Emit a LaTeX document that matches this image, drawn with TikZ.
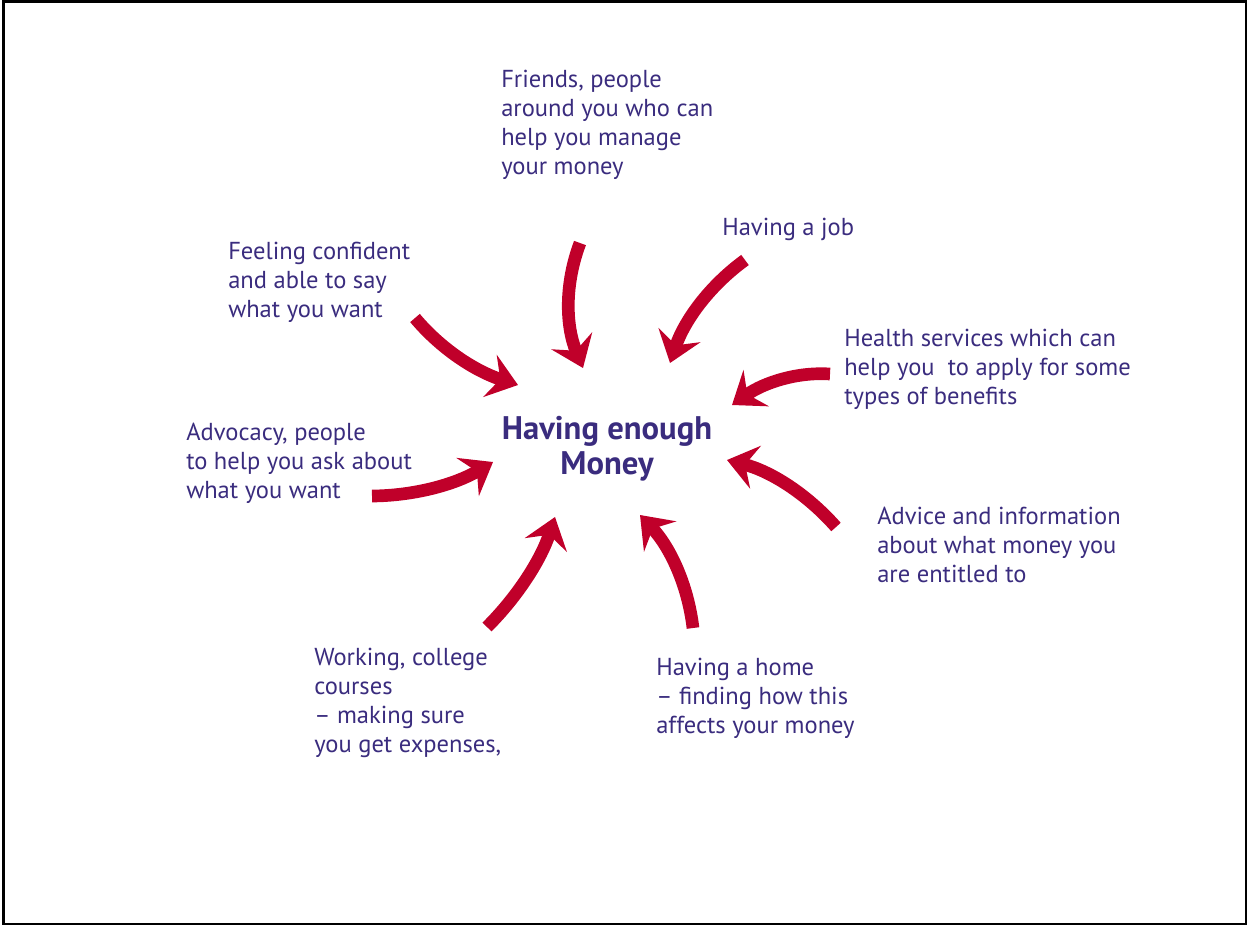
\documentclass[tikz,border=0pt]{standalone}
\usepackage{fontspec}
\setmainfont{PT Sans}
\usetikzlibrary{arrows.meta,calc}
\definecolor{txtpurple}{HTML}{3A2C7E}
\definecolor{arrred}{HTML}{C0002A}
\tikzset{
  lbl/.style={anchor=base west, inner sep=0pt, align=left, text=txtpurple,
    font=\fontsize{18.4pt}{21.75pt}\selectfont},
  bigarrow/.style={draw=arrred, line width=9.5pt,
    -{Stealth[length=22pt, width=33pt, inset=8pt]}},
}
\begin{document}
\begin{tikzpicture}[x=0.75pt, y=-0.75pt]
\useasboundingbox (0,0) rectangle (1248,926);
\draw[line width=1.6pt] (3.5,1.5) rectangle (1246,924);

% base anchor of a multi-line node = baseline of its last line
\node[anchor=base, inner sep=0pt, align=center, text=txtpurple,
  font=\fontsize{24.5pt}{26.25pt}\selectfont\bfseries] (center) at (607,474)
  {Having enough\\Money};

\node[lbl] (friends) at (501,174) {Friends, people\\around you who can\\help you manage\\your money};
\node[lbl] (feeling) at (228,317) {Feeling confident\\and able to say\\what you want};
\node[lbl] (job) at (722,235) {Having a job};
\node[lbl] (health) at (844,404) {Health services which can\\help you\ \ to apply for some\\types of benefits};
\node[lbl] (advocacy) at (186,498) {Advocacy, people\\to help you ask about\\what you want};
\node[lbl] (advice) at (877,582) {Advice and information\\about what money you\\are entitled to};
\node[lbl] (working) at (314,752) {Working, college\\courses\\– making sure\\you get expenses,};
\node[lbl] (home) at (656,733) {Having a home\\– finding how this\\affects your money};

% arrows: start, quadratic control, tip
\coordinate (s1) at (415,318); \coordinate (q1) at (453.75,364.25); \coordinate (t1) at (518,385);
\coordinate (s2) at (580,243); \coordinate (q2) at (556.75,304.75); \coordinate (t2) at (583,368);
\coordinate (s3) at (745,260); \coordinate (q3) at (691.75,298.75); \coordinate (t3) at (670,363);
\coordinate (s4) at (830,374); \coordinate (q4) at (781,370.75); \coordinate (t4) at (732,405);
\coordinate (s5) at (836,527); \coordinate (q5) at (791.25,476.25); \coordinate (t5) at (727,460);
\coordinate (s6) at (693,628); \coordinate (q6) at (685.25,563.25); \coordinate (t6) at (640,515);
\coordinate (s7) at (487,627); \coordinate (q7) at (534.5,579.5); \coordinate (t7) at (555,517);
\coordinate (s8) at (372,496); \coordinate (q8) at (436.25,495.5); \coordinate (t8) at (493,462);

\foreach \i in {1,...,8}{
  \draw[bigarrow] (s\i) .. controls ($(s\i)!2/3!(q\i)$) and ($(t\i)!2/3!(q\i)$) .. (t\i);
}
\end{tikzpicture}
\end{document}
